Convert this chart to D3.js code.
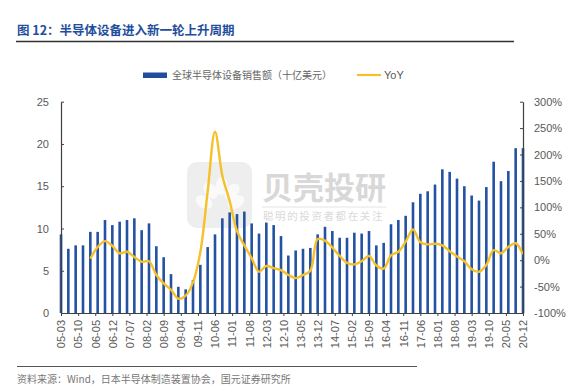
<!DOCTYPE html>
<html>
<head>
<meta charset="utf-8">
<script src="https://cdn.jsdelivr.net/npm/d3@7"></script>
<style>
  html, body { margin: 0; padding: 0; background: #fff; }
  svg { display: block; }
</style>
</head>
<body>
<svg id="chart" width="580" height="389"></svg>
<script>
// ---- Data ----
const quarters = [
  "05-03","05-06","05-09","05-12","06-03","06-06","06-09","06-12",
  "07-03","07-06","07-09","07-12","08-03","08-06","08-09","08-12",
  "09-03","09-06","09-09","09-12","10-03","10-06","10-09","10-12",
  "11-03","11-06","11-09","11-12","12-03","12-06","12-09","12-12",
  "13-03","13-06","13-09","13-12","14-03","14-06","14-09","14-12",
  "15-03","15-06","15-09","15-12","16-03","16-06","16-09","16-12",
  "17-03","17-06","17-09","17-12","18-03","18-06","18-09","18-12",
  "19-03","19-06","19-09","19-12","20-03","20-06","20-09","20-12"
];
const sales = [
  9.3, 7.6, 8.0, 8.0, 9.6, 9.6, 11.0, 10.4,
  10.8, 11.0, 11.2, 9.8, 10.6, 7.9, 6.6, 4.6,
  3.1, 2.8, 3.9, 5.7, 7.8, 9.3, 11.2, 11.9,
  11.7, 12.0, 10.6, 9.4, 10.7, 10.4, 9.1, 6.8,
  7.4, 7.6, 7.7, 9.3, 10.2, 9.7, 8.9, 8.9,
  9.5, 9.4, 9.7, 8.0, 8.3, 10.5, 11.0, 11.5,
  13.1, 14.1, 14.4, 15.2, 17.0, 16.7, 15.9, 15.0,
  13.9, 13.3, 14.9, 17.9, 15.6, 16.8, 19.5, 19.5
];
// YoY (%) — starts at 06-03
const yoy = [
  null, null, null, null,
  3, 25, 36, 27, 13, 16, 6, -3,
  -2, -28, -44, -56, -73, -67, -42, 15,
  130, 243, 160, 112, 55, 28, 4, -22,
  -11, -15, -19, -28, -34, -28, -20, 40,
  37, 24, 8, -5, -8, -2, 8, -10,
  -16, 9, 16, 35, 58, 34, 30, 31,
  28, 17, 7, -2, -17, -22, -9, 19,
  13, 25, 32, 11
];
const xTickLabels = [
  "05-03","05-10","06-05","06-12","07-07","08-02","08-09","09-04",
  "09-11","10-06","11-01","11-08","12-03","12-10","13-05","13-12",
  "14-07","15-02","15-09","16-04","16-11","17-06","18-01","18-08",
  "19-03","19-10","20-05","20-12"
];
const leftTicks = [0, 5, 10, 15, 20, 25];
const rightTicks = [-100, -50, 0, 50, 100, 150, 200, 250, 300];
const seriesNames = ["全球半导体设备销售额（十亿美元）", "YoY"];
const titleText = "图 12：半导体设备进入新一轮上升周期";
const sourceText = "资料来源：Wind，日本半导体制造装置协会，国元证券研究所";

// ---- Helpers ----
const monthIndex = s => {
  const [yy, mm] = s.split("-").map(Number);
  return (yy - 5) * 12 + (mm - 3);
};

const svg = d3.select("#chart");
const latin = "'Liberation Sans', Arial, sans-serif";
const cjk = "'Noto Sans CJK SC', 'Noto Sans', sans-serif";

const plot = { left: 61, right: 523, top: 101.7, bottom: 313 };

const x = d3.scaleLinear()
  .domain([monthIndex(quarters[0]), monthIndex(quarters[quarters.length - 1])])
  .range([plot.left, plot.right]);
const yL = d3.scaleLinear().domain([0, 25]).range([plot.bottom, plot.top]);
const yR = d3.scaleLinear().domain([-100, 300]).range([plot.bottom, plot.top]);

// ---- Title ----
svg.append("text")
  .attr("x", 17).attr("y", 35)
  .attr("font-family", cjk).attr("font-weight", 700)
  .attr("font-size", 12.5).attr("fill", "#1f4e9c")
  .text(titleText);
svg.append("line")
  .attr("x1", 16).attr("x2", 514).attr("y1", 41.5).attr("y2", 41.5)
  .attr("stroke", "#333").attr("stroke-width", 1.5);

// ---- Watermark ----
const wm = svg.append("g").attr("opacity", 0.9);
wm.append("rect")
  .attr("x", 187).attr("y", 162).attr("width", 65).attr("height", 66)
  .attr("rx", 10).attr("fill", "#ededed");
const petals = [[-20, 0], [-12, -14], [2, -20], [15, -13], [20, 0]];
petals.forEach(([dx, dy]) => {
  wm.append("ellipse")
    .attr("cx", 220 + dx * 0.8).attr("cy", 202 + dy * 0.8)
    .attr("rx", 6).attr("ry", 9)
    .attr("transform", `rotate(${dx * 3}, ${220 + dx * 0.8}, ${202 + dy * 0.8})`)
    .attr("fill", "#fafafa");
});
wm.append("text")
  .attr("x", 262).attr("y", 199)
  .attr("font-family", cjk).attr("font-weight", 700)
  .attr("font-size", 31).attr("fill", "#d4d4d4")
  .text("贝壳投研");
wm.append("line")
  .attr("x1", 262).attr("x2", 386).attr("y1", 207).attr("y2", 207)
  .attr("stroke", "#e2e2e2").attr("stroke-width", 1);
wm.append("text")
  .attr("x", 263).attr("y", 220)
  .attr("font-family", cjk).attr("font-size", 10.5)
  .attr("letter-spacing", 1.6).attr("fill", "#d6d6d6")
  .text("聪明的投资者都在关注");

// ---- Legend ----
svg.append("rect")
  .attr("x", 143).attr("y", 72.5).attr("width", 24).attr("height", 5.5)
  .attr("fill", "#1f4e9c");
svg.append("text")
  .attr("x", 172).attr("y", 79)
  .attr("font-family", cjk).attr("font-size", 10).attr("fill", "#666")
  .text(seriesNames[0]);
svg.append("line")
  .attr("x1", 357).attr("x2", 381).attr("y1", 75).attr("y2", 75)
  .attr("stroke", "#f5c02a").attr("stroke-width", 2.2);
svg.append("text")
  .attr("x", 384).attr("y", 79)
  .attr("font-family", latin).attr("font-size", 11).attr("fill", "#595959")
  .text(seriesNames[1]);

// ---- Bars ----
svg.append("g").selectAll("rect")
  .data(quarters.map((q, i) => ({ q, v: sales[i] })))
  .join("rect")
  .attr("x", d => x(monthIndex(d.q)) - 1.3)
  .attr("width", 2.6)
  .attr("y", d => yL(d.v))
  .attr("height", d => yL(0) - yL(d.v))
  .attr("fill", "#2352a3");

// ---- YoY line ----
const lineData = quarters.map((q, i) => ({ q, v: yoy[i] })).filter(d => d.v !== null);
svg.append("path")
  .datum(lineData)
  .attr("fill", "none")
  .attr("stroke", "#f5c02a")
  .attr("stroke-width", 2.4)
  .attr("stroke-linejoin", "round")
  .attr("d", d3.line()
    .x(d => x(monthIndex(d.q)))
    .y(d => yR(d.v))
    .curve(d3.curveCatmullRom.alpha(0.5)));

// ---- Axes ----
const styleAxis = g => {
  g.select(".domain").attr("stroke", "#404040").attr("stroke-width", 1.2);
  g.selectAll(".tick line").attr("stroke", "#404040");
  g.selectAll(".tick text").attr("fill", "#595959")
    .attr("font-family", latin).attr("font-size", 11);
};

svg.append("g")
  .attr("transform", `translate(${plot.left},0)`)
  .call(d3.axisLeft(yL).tickValues(leftTicks).tickSizeInner(-3).tickSizeOuter(0).tickPadding(12))
  .call(styleAxis);

svg.append("g")
  .attr("transform", `translate(${plot.right},0)`)
  .call(d3.axisRight(yR).tickValues(rightTicks).tickSizeInner(-3).tickSizeOuter(0)
    .tickPadding(11).tickFormat(d => d + "%"))
  .call(styleAxis);

const xAxis = svg.append("g")
  .attr("transform", `translate(0,${plot.bottom})`)
  .call(d3.axisBottom(x)
    .tickValues(xTickLabels.map(monthIndex))
    .tickFormat((d, i) => xTickLabels[i])
    .tickSizeInner(3).tickSizeOuter(0).tickPadding(4))
  .call(styleAxis);
xAxis.selectAll(".tick text")
  .attr("text-anchor", "end")
  .attr("dy", "0.35em")
  .attr("transform", "rotate(-90)")
  .attr("x", -7).attr("y", 0);

// ---- Footer ----
svg.append("line")
  .attr("x1", 17).attr("x2", 417).attr("y1", 366.5).attr("y2", 366.5)
  .attr("stroke", "#555").attr("stroke-width", 1.2);
svg.append("text")
  .attr("x", 17).attr("y", 383)
  .attr("font-family", cjk).attr("font-size", 10).attr("fill", "#777")
  .text(sourceText);
</script>
</body>
</html>
